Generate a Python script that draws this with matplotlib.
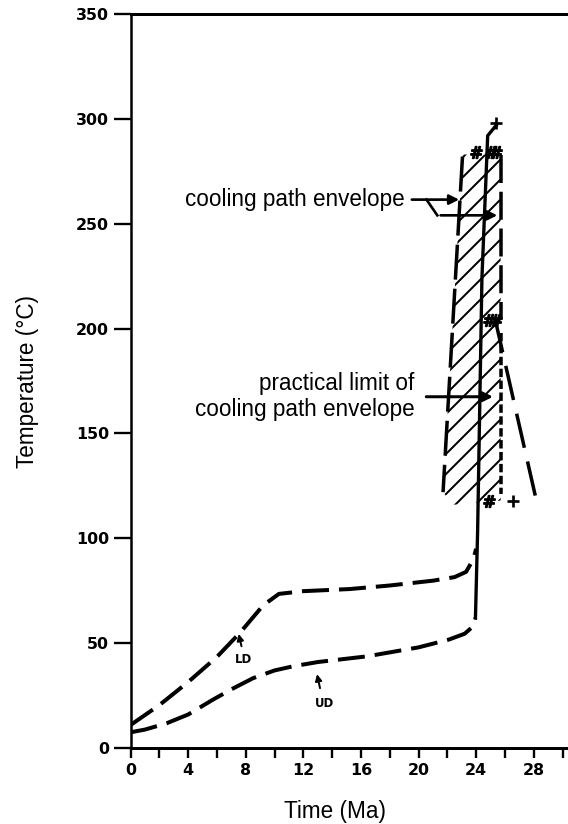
import matplotlib.pyplot as plt
from matplotlib.patches import Polygon

# burial curves, time in Ma, temperature in deg C
ld_time = [0, 2, 4, 6, 7.6, 9.2, 10.3, 12, 15.2, 18, 21, 22.5, 23.3, 23.8, 24.0]
ld_temp = [11, 20.5, 31.5, 43.5, 55, 68, 73.5, 74.8, 75.8, 77.5, 79.8, 81.5, 84, 90, 95]
ud_time = [0, 1, 2.5, 4, 5.7, 7, 8.5, 10, 11.3, 13, 16.4, 20, 22.1, 23.2, 23.7, 23.95]
ud_temp = [7.5, 8.8, 11.8, 16, 23, 28, 33.3, 37, 39, 41, 43.7, 48, 51.7, 54.5, 57.5, 62]

# uplift path (solid)
cool_time = [23.95, 24.1, 24.4, 24.8, 25.4]
cool_temp = [62, 103, 224, 292, 297]

# cooling path envelope
env_left_time = [23.05, 21.7]
env_left_temp = [282, 122]
env_right_time = [25.7, 25.7]
env_right_upper = [283, 205]
env_right_lower = [198, 121]
limit_time = [25.3, 28.25]
limit_temp = [205, 116]
hatch_time = [23.05, 25.7, 25.7, 22.4, 21.7]
hatch_temp = [283, 283, 118, 116, 122]

# data symbols
plus_time = [25.4, 26.55]
plus_temp = [298, 118]
hash_time = [24.0, 25.0, 25.4, 24.9, 25.4, 24.9]
hash_temp = [284, 284, 284, 204, 204, 118]

xticks = [0, 4, 8, 12, 16, 20, 24, 28]
yticks = [0, 50, 100, 150, 200, 250, 300, 350]

plt.rcParams['font.family'] = ['Liberation Sans', 'DejaVu Sans']
plt.rcParams['hatch.linewidth'] = 1.2

fig = plt.figure(figsize=(568 / 120, 824 / 120), dpi=120)
ax = fig.add_axes([0.230, 0.0922, 0.768, 0.8908])

ax.plot(ld_time, ld_temp, color='k', lw=2.4, dashes=(6.75, 2.5), solid_capstyle='butt')
ax.plot(ud_time, ud_temp, color='k', lw=2.4, dashes=(6.75, 2.5), solid_capstyle='butt')
ax.plot(cool_time, cool_temp, color='k', lw=2.0)

ax.add_patch(Polygon(list(zip(hatch_time, hatch_temp)), closed=True, fill=False,
                     hatch='//', edgecolor='k', lw=0))
ax.plot(env_left_time, env_left_temp, color='k', lw=2.1, dashes=(10, 2.6))
ax.plot(env_right_time, env_right_upper, color='k', lw=2.1, dashes=(8, 2.5))
ax.plot(env_right_time, env_right_lower, color='k', lw=2.1, dashes=(2.4, 1.0))
ax.plot(limit_time, limit_temp, color='k', lw=2.1, dashes=(10, 4))

ax.plot(plus_time, plus_temp, ls='none', marker='+', ms=7, mew=1.6, color='k')
ax.plot(hash_time, hash_temp, ls='none', marker=r'$\#$', ms=7, color='k')

# annotations
ax.text(19.05, 261.5, 'cooling path envelope', ha='right', va='center', fontsize=13.5)
ax.annotate('', xy=(23.05, 261.5), xytext=(19.3, 261.5),
            arrowprops=dict(arrowstyle='-|>', lw=1.6, color='k', mutation_scale=12))
ax.plot([20.55, 21.3], [261.5, 254], color='k', lw=1.6)
ax.annotate('', xy=(25.7, 254), xytext=(21.3, 254),
            arrowprops=dict(arrowstyle='-|>', lw=1.6, color='k', mutation_scale=12))

ax.text(19.7, 167.5, 'practical limit of\ncooling path envelope', ha='right', va='center',
        fontsize=13.5, linespacing=1.15)
ax.annotate('', xy=(25.4, 167.5), xytext=(20.3, 167.5),
            arrowprops=dict(arrowstyle='-|>', lw=1.8, color='k', mutation_scale=12))

ax.text(7.82, 42.3, 'LD', ha='center', va='center', fontsize=7, fontweight='bold',
        family='DejaVu Sans')
ax.annotate('', xy=(7.45, 56), xytext=(7.75, 47),
            arrowprops=dict(arrowstyle='-|>', lw=1.2, color='k', mutation_scale=8))
ax.text(13.5, 21.3, 'UD', ha='center', va='center', fontsize=7, fontweight='bold',
        family='DejaVu Sans')
ax.annotate('', xy=(12.9, 36.8), xytext=(13.2, 27),
            arrowprops=dict(arrowstyle='-|>', lw=1.2, color='k', mutation_scale=8))

ax.set_xlim(0, 30.3)
ax.set_ylim(0, 350)
ax.set_xticks(xticks)
ax.set_xticks([2, 6, 10, 14, 18, 22, 26, 30], minor=True)
ax.set_yticks(yticks)
ax.tick_params(axis='y', length=10, width=1.4, pad=3, labelsize=9.5)
ax.tick_params(axis='x', which='both', length=6, width=1.4, pad=3, labelsize=9.5)
for lab in ax.get_xticklabels() + ax.get_yticklabels():
    lab.set_fontweight('bold')
    lab.set_family('DejaVu Sans')

ax.spines['right'].set_visible(False)
ax.spines['left'].set_linewidth(1.5)
ax.spines['bottom'].set_linewidth(1.8)
ax.spines['top'].set_linewidth(1.8)

ax.set_xlabel('Time (Ma)', fontsize=13.5)
ax.set_ylabel('Temperature (°C)', fontsize=13.5)
ax.xaxis.set_label_coords(0.469, -0.071)
ax.yaxis.set_label_coords(-0.21, 0.5)

fig.savefig('out.png', dpi=120)
